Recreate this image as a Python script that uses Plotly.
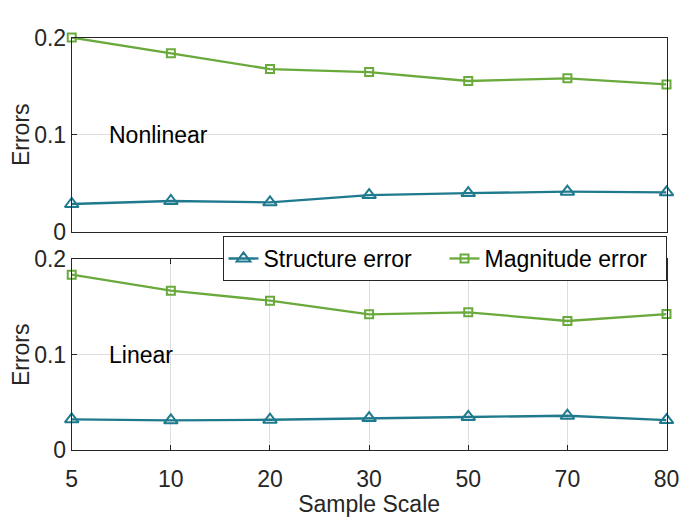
import plotly.graph_objects as go

scales = ["5", "10", "20", "30", "50", "70", "80"]

# Nonlinear panel (top)
nonlin_structure = [0.0288, 0.0319, 0.0305, 0.0380, 0.0400, 0.0415, 0.0408]
nonlin_magnitude = [0.2000, 0.1838, 0.1676, 0.1645, 0.1553, 0.1580, 0.1518]

# Linear panel (bottom)
lin_structure = [0.0325, 0.0314, 0.0320, 0.0338, 0.0349, 0.0362, 0.0317]
lin_magnitude = [0.1839, 0.1671, 0.1567, 0.1424, 0.1445, 0.1354, 0.1427]

y_ticks = [0, 0.1, 0.2]
y_ticklabels = ["0", "0.1", "0.2"]

BLUE = "#1f7a8e"
GREEN = "#6aaa3c"
AXIS = "#262626"
GRID = "#dedede"
FONT = "Liberation Sans, Arial, sans-serif"
FS = 23

fig = go.Figure()


def add_series(xaxis, yaxis, structure, magnitude, showlegend):
    fig.add_trace(go.Scatter(
        x=scales, y=structure, mode="lines+markers", name="Structure error",
        xaxis=xaxis, yaxis=yaxis, showlegend=showlegend, cliponaxis=False,
        line=dict(color=BLUE, width=2.3),
        marker=dict(symbol="triangle-up-open", size=12, color=BLUE,
                    line=dict(width=2, color=BLUE))
    ))
    fig.add_trace(go.Scatter(
        x=scales, y=magnitude, mode="lines+markers", name="Magnitude error",
        xaxis=xaxis, yaxis=yaxis, showlegend=showlegend, cliponaxis=False,
        line=dict(color=GREEN, width=2.3),
        marker=dict(symbol="square-open", size=8, color=GREEN,
                    line=dict(width=2, color=GREEN))
    ))


add_series("x", "y", nonlin_structure, nonlin_magnitude, True)
add_series("x2", "y2", lin_structure, lin_magnitude, False)

# page has an 8px body margin, so the figure is sized to fit the window
x_dom = [0.0921, 0.9516]
common_y = dict(
    range=[0, 0.2], tickvals=y_ticks, ticktext=y_ticklabels,
    showline=True, linecolor=AXIS, linewidth=1, mirror="ticks",
    ticks="inside", ticklen=5, tickcolor=AXIS, automargin=False,
    showgrid=True, gridcolor=GRID, zeroline=False,
    tickfont=dict(size=FS, color=AXIS),
    title=dict(text="Errors", font=dict(size=FS, color=AXIS), standoff=12),
)

fig.update_layout(
    width=692, height=509,
    margin=dict(l=0, r=0, t=0, b=0),
    paper_bgcolor="white", plot_bgcolor="white",
    font=dict(family=FONT, color=AXIS),
    xaxis=dict(
        domain=x_dom, anchor="y", type="category", range=[0, 6],
        showline=True, linecolor=AXIS, mirror=True, showgrid=False,
        showticklabels=False, ticks="", zeroline=False, automargin=False
    ),
    yaxis=dict(domain=[0.5599, 0.942], anchor="x", **common_y),
    xaxis2=dict(
        domain=x_dom, anchor="y2", type="category", range=[0, 6],
        showline=True, linecolor=AXIS, mirror="ticks", showgrid=True,
        gridcolor=GRID, ticks="inside", ticklen=5, tickcolor=AXIS,
        tickfont=dict(size=FS, color=AXIS), zeroline=False, automargin=False,
        ticklabelstandoff=8,
        title=dict(text="Sample Scale", font=dict(size=FS, color=AXIS), standoff=0)
    ),
    yaxis2=dict(domain=[0.131, 0.5063], anchor="x2", **common_y),
    legend=dict(
        orientation="h", x=0.9516, xanchor="right", y=0.552, yanchor="top",
        bgcolor="white", bordercolor=AXIS, borderwidth=1,
        font=dict(size=FS, color="black"), itemwidth=30, entrywidth=176,
    ),
    annotations=[
        dict(text="Nonlinear", xref="x domain", yref="y", x=0.06, y=0.1,
             xanchor="left", yanchor="middle", showarrow=False,
             font=dict(size=FS, color="black")),
        dict(text="Linear", xref="x2 domain", yref="y2", x=0.06, y=0.1,
             xanchor="left", yanchor="middle", showarrow=False,
             font=dict(size=FS, color="black")),
    ],
)

fig.write_html("out.html")
